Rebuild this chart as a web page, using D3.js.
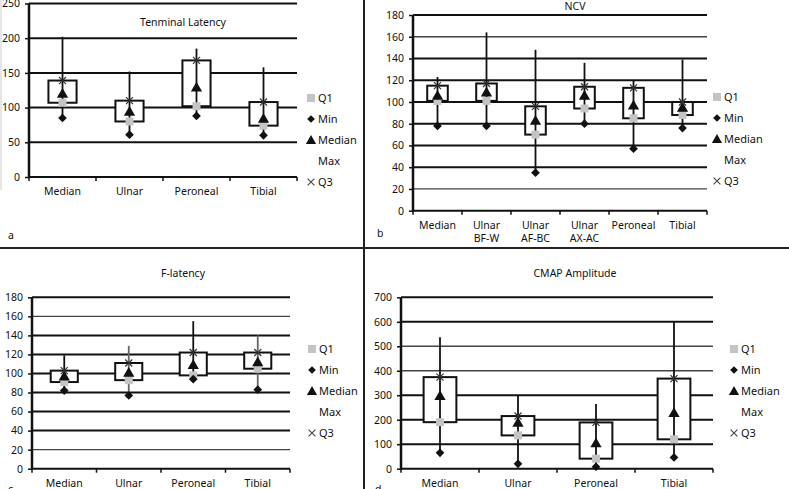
<!DOCTYPE html>
<html>
<head>
<meta charset="utf-8">
<script src="https://cdn.jsdelivr.net/npm/d3@7"></script>
<style>
  body { margin: 0; background: #fff; }
  text { font-family: "Noto Sans", "Open Sans", sans-serif; fill: #111; }
</style>
</head>
<body>
<div id="chart"></div>
<script>
// Panel a - Tenminal Latency
var latCats = ["Median", "Ulnar", "Peroneal", "Tibial"];
var latMin = [85, 61, 88, 60];
var latQ1 = [107, 80, 102, 74];
var latMed = [119, 93, 128, 83];
var latQ3 = [139, 110, 168, 108];
var latMax = [202, 152, 185, 158];

// Panel b - NCV
var ncvCats = ["Median", "Ulnar|BF-W", "Ulnar|AF-BC", "Ulnar|AX-AC", "Peroneal", "Tibial"];
var ncvMin = [78, 78, 35, 80, 57, 76];
var ncvQ1 = [101, 101, 70, 94, 85, 88];
var ncvMed = [105, 108, 82, 105, 96, 94];
var ncvQ3 = [115, 117, 96, 114, 113, 100];
var ncvMax = [123, 164, 148, 136, 120, 139];

// Panel c - F-latency
var fCats = ["Median", "Ulnar", "Peroneal", "Tibial"];
var fMin = [82, 77, 94, 83];
var fQ1 = [91, 93, 98, 105];
var fMed = [96, 100, 108, 111];
var fQ3 = [103, 111, 122, 122];
var fMax = [119, 129, 155, 140];

// Panel d - CMAP Amplitude
var cmapCats = ["Median", "Ulnar", "Peroneal", "Tibial"];
var cmapMin = [65, 20, 8, 46];
var cmapQ1 = [190, 136, 41, 120];
var cmapMed = [294, 185, 101, 224];
var cmapQ3 = [374, 215, 189, 368];
var cmapMax = [537, 301, 264, 601];

var legendItems = ["Q1", "Min", "Median", "Max", "Q3"];

var svg = d3.select("#chart").append("svg")
    .attr("width", 789)
    .attr("height", 489);

// panel separators
svg.append("line").attr("x1", 364).attr("x2", 364).attr("y1", 0).attr("y2", 489)
    .attr("stroke", "#222").attr("stroke-width", 2);
svg.append("line").attr("x1", 0).attr("x2", 789).attr("y1", 248).attr("y2", 248)
    .attr("stroke", "#222").attr("stroke-width", 2);
svg.append("line").attr("x1", 1).attr("x2", 1).attr("y1", 0).attr("y2", 190)
    .attr("stroke", "#ccc").attr("stroke-width", 1);

function rows(cats, mn, q1, md, q3, mx) {
    return cats.map(function (c, i) {
        return { cat: c, min: mn[i], q1: q1[i], med: md[i], q3: q3[i], max: mx[i] };
    });
}

var FS = "10.5px";

function drawPanel(p) {
    var data = rows(p.cats, p.min, p.q1, p.med, p.q3, p.max);
    var g = svg.append("g");

    var x = d3.scaleBand().domain(p.cats).range([p.x0, p.x1]);
    var y = d3.scaleLinear().domain([0, p.top]).range([p.y0, p.y1]);
    var ticks = d3.range(0, p.top + 1, p.step);

    // gridlines
    g.selectAll(".grid").data(ticks.slice(1)).enter().append("line")
        .attr("x1", p.x0).attr("x2", p.x1)
        .attr("y1", function (d) { return y(d); })
        .attr("y2", function (d) { return y(d); })
        .attr("stroke", function (d) { return p.thin.indexOf(d) >= 0 ? "#444" : "#111"; })
        .attr("stroke-width", function (d) { return p.thin.indexOf(d) >= 0 ? 1.3 : 2; });

    // y axis
    var ya = g.append("g").attr("transform", "translate(" + p.x0 + ",0)")
        .call(d3.axisLeft(y).tickValues(ticks).tickSize(4).tickPadding(5));
    ya.select(".domain").remove();
    ya.selectAll(".tick line").attr("stroke", "#111").attr("stroke-width", 1.5);
    ya.selectAll("text").style("font-size", FS).attr("fill", "#111");
    g.append("line").attr("x1", p.x0).attr("x2", p.x0).attr("y1", p.y0 + 1).attr("y2", p.y1)
        .attr("stroke", "#111").attr("stroke-width", 2.5);

    // x axis
    g.append("line").attr("x1", p.x0).attr("x2", p.x1).attr("y1", p.y0).attr("y2", p.y0)
        .attr("stroke", "#111").attr("stroke-width", 2);
    var bounds = p.cats.map(function (c) { return x(c); }).concat([p.x1]);
    g.selectAll(".xt").data(bounds).enter().append("line")
        .attr("x1", function (d) { return d; }).attr("x2", function (d) { return d; })
        .attr("y1", p.y0).attr("y2", p.y0 + 4)
        .attr("stroke", "#111").attr("stroke-width", 1.5);
    p.cats.forEach(function (c) {
        c.split("|").forEach(function (s, i) {
            g.append("text")
                .attr("x", x(c) + x.bandwidth() / 2)
                .attr("y", p.y0 + 18 + i * 13)
                .attr("text-anchor", "middle")
                .style("font-size", FS)
                .text(s);
        });
    });

    var bw = x.bandwidth() * 0.42;
    var cx = function (d) { return x(d.cat) + x.bandwidth() / 2; };

    // boxes Q1..Q3
    g.selectAll(".box").data(data).enter().append("rect")
        .attr("x", function (d) { return cx(d) - bw / 2; })
        .attr("y", function (d) { return y(d.q3); })
        .attr("width", bw)
        .attr("height", function (d) { return y(d.q1) - y(d.q3); })
        .attr("fill", "#fff").attr("stroke", "#111").attr("stroke-width", 2);

    // whiskers min..max
    g.selectAll(".wh").data(data).enter().append("line")
        .attr("x1", cx).attr("x2", cx)
        .attr("y1", function (d) { return y(d.min); })
        .attr("y2", function (d) { return y(d.max); })
        .attr("stroke", function (d, i) { return p.grayWh.indexOf(i) >= 0 ? "#666" : "#111"; })
        .attr("stroke-width", 1.8);

    var sym = function (type, size) { return d3.symbol().type(type).size(size)(); };

    // Q1 gray squares
    g.selectAll(".q1").data(data).enter().append("path")
        .attr("d", sym(d3.symbolSquare, 64))
        .attr("transform", function (d) { return "translate(" + cx(d) + "," + y(d.q1) + ")"; })
        .attr("fill", "#c4c4c4");
    // Min diamonds
    g.selectAll(".mn").data(data).enter().append("path")
        .attr("d", sym(d3.symbolSquare, 38))
        .attr("transform", function (d) { return "translate(" + cx(d) + "," + y(d.min) + ") rotate(45)"; })
        .attr("fill", "#111");
    // Median triangles
    g.selectAll(".md").data(data).enter().append("path")
        .attr("d", sym(d3.symbolTriangle, 55))
        .attr("transform", function (d) { return "translate(" + cx(d) + "," + y(d.med) + ")"; })
        .attr("fill", "#111");
    // Q3 crosses
    g.selectAll(".q3").data(data).enter().append("path")
        .attr("d", sym(d3.symbolTimes, 34))
        .attr("transform", function (d) { return "translate(" + cx(d) + "," + y(d.q3) + ")"; })
        .attr("fill", "none").attr("stroke", "#333").attr("stroke-width", 1.2);

    // title
    g.append("text").attr("x", p.tx).attr("y", p.ty).attr("text-anchor", "middle")
        .style("font-size", FS).text(p.title);

    // panel letter
    g.append("text").attr("x", p.lx).attr("y", p.ly)
        .style("font-size", FS).text(p.letter);

    // legend
    var lg = g.selectAll(".lg").data(legendItems).enter().append("g")
        .attr("transform", function (d, i) { return "translate(" + p.legX + "," + (p.legY + i * 21) + ")"; });
    lg.append("text").attr("x", 7).attr("y", 4).style("font-size", "11px")
        .text(function (d) { return d; });
    lg.each(function (d) {
        var s = d3.select(this);
        if (d === "Q1") s.append("rect").attr("x", -4).attr("y", -4).attr("width", 8).attr("height", 8).attr("fill", "#c4c4c4");
        if (d === "Min") s.append("path").attr("d", sym(d3.symbolSquare, 30)).attr("transform", "rotate(45)").attr("fill", "#111");
        if (d === "Median") s.append("path").attr("d", sym(d3.symbolTriangle, 45)).attr("transform", "translate(0,1)").attr("fill", "#111");
        if (d === "Q3") s.append("path").attr("d", sym(d3.symbolTimes, 32))
            .attr("fill", "none").attr("stroke", "#444").attr("stroke-width", 1.1);
    });
}

drawPanel({
    cats: latCats, min: latMin, q1: latQ1, med: latMed, q3: latQ3, max: latMax,
    x0: 29, x1: 297, y0: 177, y1: 3.5, top: 250, step: 50, thin: [], grayWh: [],
    title: "Tenminal Latency", tx: 183, ty: 26, letter: "a", lx: 8, ly: 239,
    legX: 311, legY: 98
});

drawPanel({
    cats: ncvCats, min: ncvMin, q1: ncvQ1, med: ncvMed, q3: ncvQ3, max: ncvMax,
    x0: 413, x1: 707, y0: 210.7, y1: 15, top: 180, step: 20, thin: [160, 20], grayWh: [],
    title: "NCV", tx: 575, ty: 10, letter: "b", lx: 377, ly: 237,
    legX: 717, legY: 97
});

drawPanel({
    cats: fCats, min: fMin, q1: fQ1, med: fMed, q3: fQ3, max: fMax,
    x0: 32, x1: 290, y0: 468.7, y1: 297.3, top: 180, step: 20, thin: [160, 20], grayWh: [1, 3],
    title: "F-latency", tx: 183, ty: 277, letter: "c", lx: 8, ly: 493,
    legX: 312, legY: 349
});

drawPanel({
    cats: cmapCats, min: cmapMin, q1: cmapQ1, med: cmapMed, q3: cmapQ3, max: cmapMax,
    x0: 401, x1: 713, y0: 468.7, y1: 297.3, top: 700, step: 100, thin: [500, 400], grayWh: [],
    title: "CMAP Amplitude", tx: 575, ty: 277, letter: "d", lx: 375, ly: 493,
    legX: 734, legY: 349
});
</script>
</body>
</html>
